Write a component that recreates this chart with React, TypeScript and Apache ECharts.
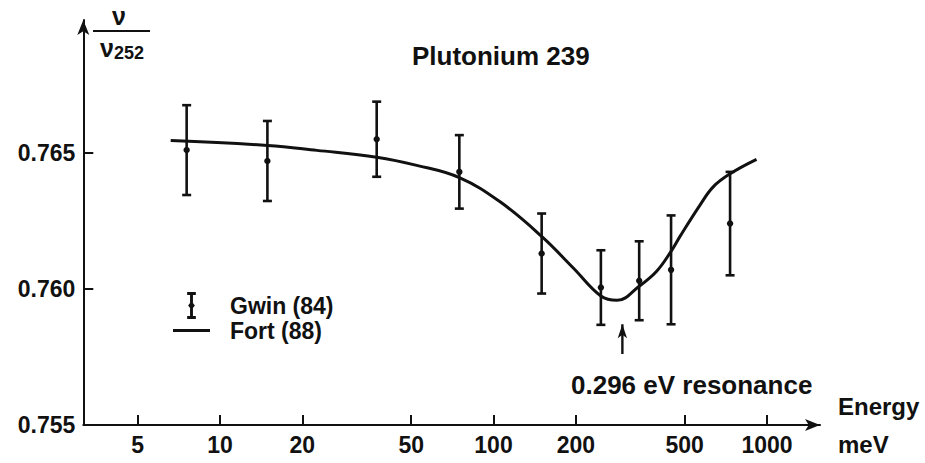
import React, { useEffect, useRef } from "react";
import * as echarts from "echarts";

const FONT = "'Liberation Sans', Arial, sans-serif";
const INK = "#111";

// axis ticks
const energyTicks = [5, 10, 20, 50, 100, 200, 500, 1000];
const ratioTicks = [0.755, 0.76, 0.765];

// Gwin (84) measurements: energy (meV), ratio, error
const gwinEnergy = [7.55, 14.9, 37.4, 75, 150, 247, 341, 446, 733];
const gwinRatio = [0.7651, 0.7647, 0.7655, 0.7643, 0.7613, 0.76005, 0.7603, 0.7607, 0.7624];
const gwinError = [0.00165, 0.00147, 0.00138, 0.00135, 0.00147, 0.00137, 0.00145, 0.002, 0.0019];

// Fort (88) curve
const fortEnergy = [6.6, 14.94, 22.6, 37.4, 52.4, 75, 105.7, 150, 195.8, 247, 283, 341, 395, 446, 481, 569, 636, 733, 916];
const fortRatio = [
  0.76545, 0.76527, 0.76509, 0.76484, 0.76454, 0.76409, 0.7632, 0.76193, 0.76077, 0.75974,
  0.75958, 0.7601, 0.76065, 0.76138, 0.76193, 0.76308, 0.76375, 0.76423, 0.76476,
];

// resonance marker
const resonanceEnergy = 296;
const resonanceArrow = [0.75761, 0.7587];

const ERRBAR_ICON = "path://M0,0H9V3H6V11.5L8,14L6,16.5V25H9V28H0V25H3V16.5L1,14L3,11.5V3H0Z";
const LINE_ICON = "path://M0,0H37V2.8H0Z";

export default function App() {
  const ref = useRef<HTMLDivElement>(null);

  useEffect(() => {
    if (!ref.current) return;
    const chart = echarts.init(ref.current, null, { renderer: "svg" });
    const txt = { color: INK, fontFamily: FONT, fontWeight: "bold" as const };

    chart.setOption({
      animation: false,
      backgroundColor: "#fff",
      title: {
        text: "Plutonium 239",
        left: 412,
        top: 43,
        padding: 0,
        textStyle: { ...txt, fontSize: 26 },
      },
      legend: {
        orient: "vertical",
        left: 173,
        top: 292,
        padding: 0,
        itemWidth: 37,
        itemHeight: 27,
        itemGap: 0,
        selectedMode: false,
        textStyle: { ...txt, fontSize: 23, padding: [0, 0, 0, 15] },
        data: [
          { name: "Gwin (84)", icon: ERRBAR_ICON },
          { name: "Fort (88)", icon: LINE_ICON },
        ],
      },
      grid: { left: 83.3, right: 105, top: 20, bottom: 34.7, containLabel: false },
      xAxis: {
        type: "log",
        logBase: 10,
        min: 3.1623,
        max: 1563,
        name: "Energy\nmeV",
        nameLocation: "end",
        nameGap: 18,
        nameTextStyle: { ...txt, fontSize: 24, align: "left", verticalAlign: "middle", lineHeight: 38 },
        axisLine: {
          show: true,
          onZero: false,
          lineStyle: { color: INK, width: 2 },
          symbol: ["none", "arrow"],
          symbolSize: [9, 15],
        },
        axisTick: { show: true, inside: true, length: 10, lineStyle: { color: INK, width: 2 }, customValues: energyTicks },
        axisLabel: { show: true, margin: 8, ...txt, fontSize: 23, customValues: energyTicks, formatter: (v: number) => String(v) },
        splitLine: { show: false },
        minorTick: { show: false },
      },
      yAxis: {
        type: "value",
        min: 0.755,
        max: 0.76988,
        axisLine: {
          show: true,
          onZero: false,
          lineStyle: { color: INK, width: 2 },
          symbol: ["none", "arrow"],
          symbolSize: [9, 15],
        },
        axisTick: { show: true, inside: true, length: 10, lineStyle: { color: INK, width: 2 }, customValues: ratioTicks },
        axisLabel: { show: true, margin: 8, ...txt, fontSize: 23, customValues: ratioTicks, formatter: (v: number) => v.toFixed(3) },
        splitLine: { show: false },
      },
      graphic: [
        { type: "text", left: 112, top: 3, style: { text: "ν", fill: INK, font: `bold 25px ${FONT}` } },
        { type: "line", shape: { x1: 93, y1: 31, x2: 150, y2: 31 }, style: { stroke: INK, lineWidth: 2.2 } },
        { type: "text", left: 100, top: 35, style: { text: "ν", fill: INK, font: `bold 25px ${FONT}` } },
        { type: "text", left: 114, top: 44, style: { text: "252", fill: INK, font: `bold 18px ${FONT}` } },
        { type: "text", left: 571, top: 372, style: { text: "0.296 eV resonance", fill: INK, font: `bold 26px ${FONT}` } },
      ],
      series: [
        {
          name: "Fort (88)",
          type: "line",
          smooth: 0.4,
          symbol: "none",
          itemStyle: { color: INK },
          lineStyle: { color: INK, width: 3 },
          data: fortEnergy.map((e, i) => [e, fortRatio[i]]),
          z: 2,
        },
        {
          name: "Gwin (84)",
          type: "custom",
          itemStyle: { color: INK },
          encode: { x: 0, y: 1 },
          data: gwinEnergy.map((e, i) => [e, gwinRatio[i], gwinError[i]]),
          renderItem: (_params: any, api: any) => {
            const e = api.value(0);
            const v = api.value(1);
            const err = api.value(2);
            const c = api.coord([e, v]);
            const hi = api.coord([e, v + err]);
            const lo = api.coord([e, v - err]);
            const st = { stroke: INK, lineWidth: 2.6 };
            return {
              type: "group",
              children: [
                { type: "line", shape: { x1: c[0], y1: hi[1], x2: c[0], y2: lo[1] }, style: st },
                { type: "line", shape: { x1: c[0] - 4.5, y1: hi[1], x2: c[0] + 4.5, y2: hi[1] }, style: st },
                { type: "line", shape: { x1: c[0] - 4.5, y1: lo[1], x2: c[0] + 4.5, y2: lo[1] }, style: st },
                { type: "circle", shape: { cx: c[0], cy: c[1], r: 3.2 }, style: { fill: INK } },
              ],
            };
          },
          z: 3,
        },
        {
          name: "resonance",
          type: "line",
          lineStyle: { color: INK, width: 2.4 },
          itemStyle: { color: INK },
          data: [
            { value: [resonanceEnergy, resonanceArrow[1]], symbol: "arrow", symbolSize: [7, 14] },
            { value: [resonanceEnergy, resonanceArrow[0]], symbol: "none" },
          ],
          z: 2,
        },
      ],
    });

    return () => chart.dispose();
  }, []);

  return (
    <div
      ref={ref}
      style={{ position: "fixed", left: 0, top: 0, width: 925, height: 463, background: "#fff" }}
    />
  );
}
